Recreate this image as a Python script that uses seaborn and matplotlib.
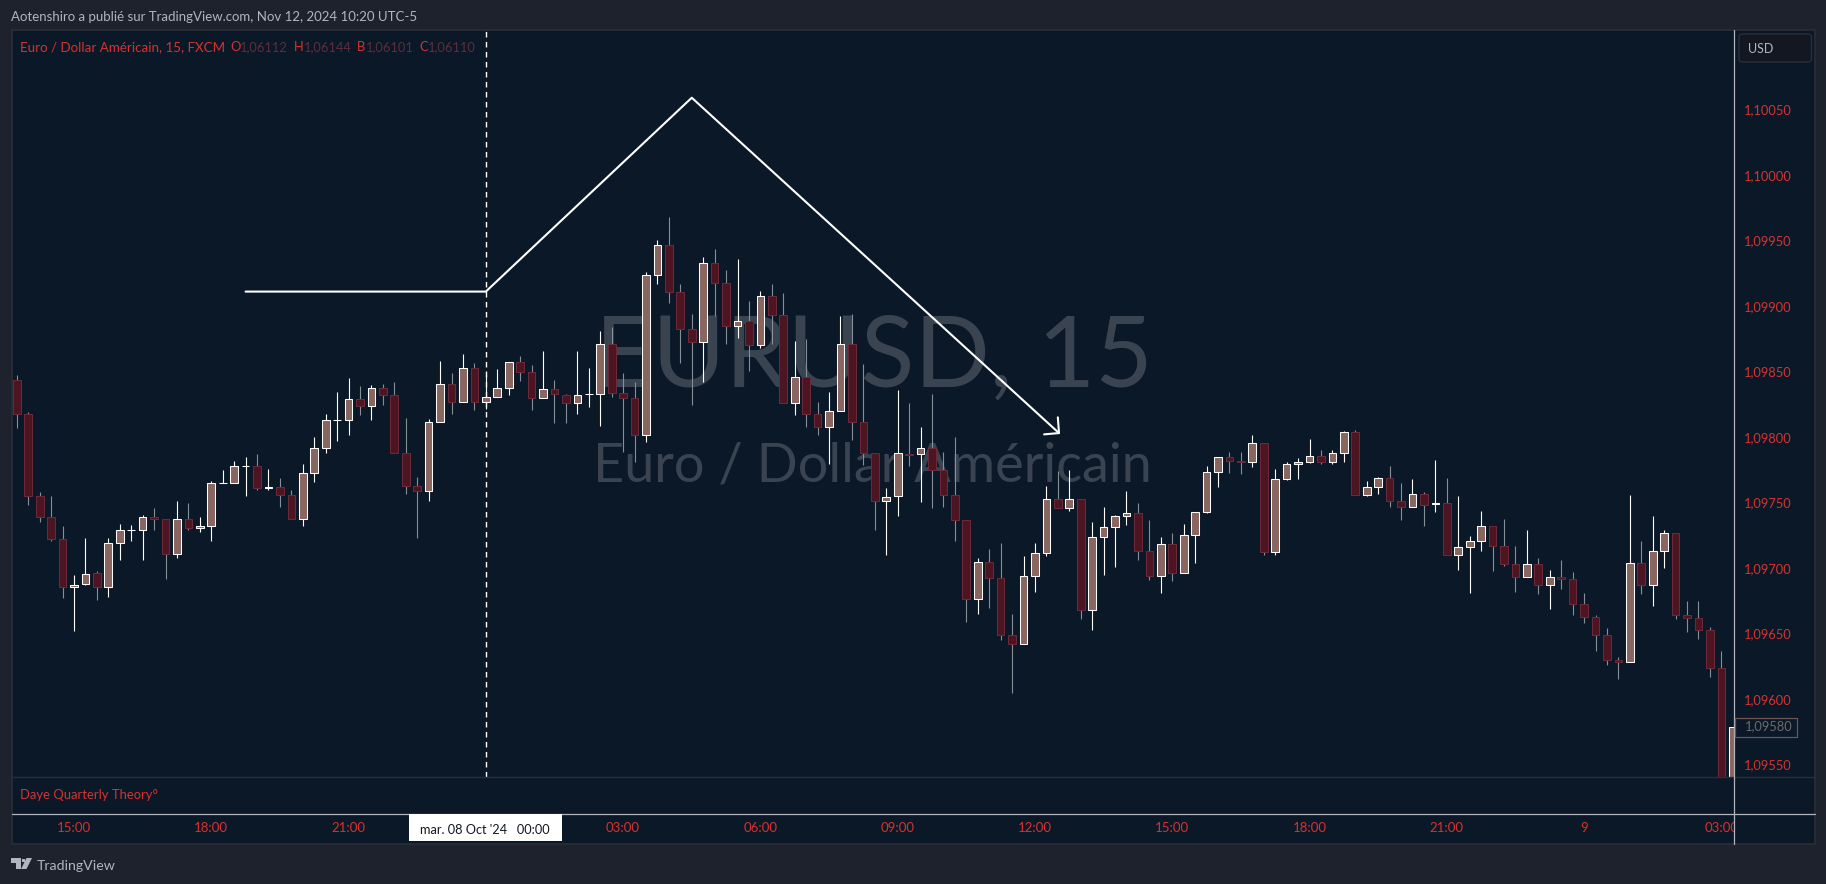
import matplotlib
matplotlib.use("Agg")
import matplotlib.pyplot as plt
from matplotlib.patches import Rectangle, Polygon, FancyBboxPatch
from matplotlib.ticker import FixedLocator, FuncFormatter
from matplotlib.transforms import ScaledTranslation
import numpy as np
import pandas as pd
import seaborn as sns

# ---- data: EUR/USD 15 min candles, in points (1e-5) ----
open_pts = [
 109844.3,109818.3,109755.7,109739.7,109722.9,109686.2,109688.5,109696.9,109686.2,109719.8,
 109729.7,109729.7,109739.7,109738.1,109711.4,109738.1,109731.3,109732.8,109765.6,109765.6,
 109778.6,109778.6,109761.8,109763.1,109756.5,109738.1,109773.3,109792.4,109813.7,109813.7,
 109829.8,109824.4,109838.2,109832.8,109788.5,109763.3,109759.5,109812.2,109841.2,109827.5,
 109853.4,109827.5,109831.3,109838.1,109858.5,109850.3,109830.5,109837.9,109833.3,109826.7,
 109833.5,109833.5,109872.2,109834.3,109831.0,109802.2,109924.9,109947.8,109911.4,109883.2,
 109873.2,109934.1,109918.3,109886.0,109889.3,109871.4,109908.9,109894.4,109826.7,109847.0,
 109818.2,109808.8,109821.0,109872.2,109812.1,109788.5,109752.3,109755.6,109788.3,109787.7,
 109792.8,109775.5,109756.9,109737.3,109677.5,109705.3,109693.5,109649.5,109643.2,109694.6,
 109712.1,109753.4,109746.5,109753.4,109668.6,109724.3,109732.5,109740.4,109743.2,109714.2,
 109694.6,109719.5,109697.4,109726.4,109743.9,109774.5,109785.4,109782.9,109782.1,109796.1,
 109713.4,109768.6,109780.1,109781.6,109786.2,109781.6,109788.5,109804.5,109756.9,109762.6,
 109769.5,109751.9,109747.3,109757.2,109750.1,109750.4,109710.7,109716.8,109721.4,109732.8,
 109717.5,109704.3,109693.9,109704.3,109687.8,109693.9,109692.3,109673.3,109663.3,109649.6,
 109630.5,109629.0,109704.6,109687.8,109713.7,109727.5,109664.9,109662.6,109653.4,109624.4,
 109535.0]
high_pts = [
 109848.3,109819.8,109758.8,109755.7,109732.8,109695.4,109723.6,109698.4,109723.6,109734.3,
 109733.6,109741.2,109746.5,109738.1,109751.9,109750.4,109739.7,109767.2,109775.6,109782.4,
 109785.5,109787.8,109776.3,109769.4,109760.3,109780.1,109800.8,109818.3,109835.1,109845.8,
 109839.7,109840.4,109841.2,109842.7,109815.3,109770.2,109814.5,109858.8,109849.6,109864.1,
 109857.3,109851.1,109852.7,109858.5,109862.5,109855.7,109866.4,109844.2,109833.5,109866.4,
 109853.4,109881.6,109884.7,109849.6,109842.7,109926.7,109951.1,109968.7,109917.5,109894.6,
 109938.1,109944.2,109928.2,109936.6,109904.5,109912.2,109917.5,109910.6,109874.0,109875.5,
 109827.4,109835.1,109893.1,109894.6,109856.4,109788.5,109761.7,109836.6,109826.7,109808.3,
 109833.5,109789.2,109800.7,109737.3,109708.3,109715.2,109719.8,109665.6,109709.8,109719.8,
 109763.3,109774.7,109775.5,109753.4,109735.8,109747.3,109741.1,109759.5,109750.3,109737.3,
 109724.3,109727.4,109734.3,109743.9,109778.6,109785.4,109789.2,109789.2,109802.2,109796.1,
 109776.3,109781.6,109784.7,109799.2,109790.8,109790.8,109805.3,109806.0,109767.1,109770.2,
 109778.6,109765.6,109768.7,109758.8,109783.2,109769.5,109755.7,109725.2,109744.3,109732.8,
 109738.2,109717.5,109729.8,109708.4,109699.2,109706.9,109697.7,109681.7,109665.4,109654.9,
 109632.8,109756.5,109721.4,109740.4,109729.8,109727.5,109675.6,109675.6,109655.7,109637.4,
 109579.4]
low_pts = [
 109808.1,109749.1,109736.4,109721.9,109678.3,109653.1,109688.0,109676.8,109679.1,109707.4,
 109721.9,109707.4,109730.3,109692.8,109708.9,109730.3,109728.7,109721.9,109765.6,109765.6,
 109756.2,109760.8,109760.8,109747.8,109738.1,109733.3,109766.9,109789.0,109798.2,109802.8,
 109818.0,109814.2,109825.7,109788.5,109757.7,109724.2,109752.4,109812.2,109818.8,109827.5,
 109821.9,109822.6,109831.3,109833.3,109843.9,109821.8,109830.5,109811.9,109811.9,109818.8,
 109824.1,109809.6,109831.8,109789.8,109782.1,109796.9,109918.0,109903.5,109857.7,109825.6,
 109843.2,109893.6,109872.2,109876.8,109851.6,109869.2,109872.2,109826.7,109818.0,109808.8,
 109802.7,109780.6,109821.0,109798.9,109779.6,109730.2,109711.0,109740.9,109779.0,109751.1,
 109746.5,109747.8,109721.8,109660.0,109666.1,109670.6,109646.2,109605.8,109643.2,109682.9,
 109710.3,109746.5,109744.7,109662.2,109653.9,109695.8,109701.9,109733.8,109707.3,109692.0,
 109682.1,109691.3,109697.4,109705.0,109742.7,109763.0,109773.7,109773.0,109778.3,109711.1,
 109711.1,109767.9,109769.1,109780.8,109780.1,109780.1,109782.1,109756.9,109756.2,109757.8,
 109747.3,109737.9,109747.3,109733.1,109744.0,109710.7,109699.7,109682.2,109714.2,109699.0,
 109702.8,109682.9,109693.9,109681.4,109670.0,109685.2,109665.4,109659.3,109637.9,109627.2,
 109616.5,109629.0,109681.4,109672.2,109701.3,109662.1,109652.4,109647.0,109618.0,109520.0,
 109520.0]
close_pts = [
 109818.3,109755.7,109739.7,109722.9,109686.2,109688.3,109696.7,109686.2,109719.8,109729.7,
 109729.7,109739.7,109738.1,109711.4,109738.1,109731.3,109732.8,109765.6,109765.6,109778.6,
 109778.6,109761.8,109763.1,109756.5,109738.1,109773.3,109792.4,109813.7,109813.7,109829.8,
 109824.4,109838.2,109832.8,109788.5,109763.3,109759.5,109812.2,109841.2,109827.5,109853.4,
 109827.5,109831.3,109838.2,109858.5,109850.3,109830.5,109837.9,109833.5,109826.7,109833.3,
 109833.5,109872.2,109834.3,109831.0,109802.2,109924.9,109947.8,109911.4,109883.2,109873.2,
 109934.1,109918.3,109886.0,109889.3,109871.4,109908.9,109894.4,109826.7,109847.0,109818.2,
 109808.8,109821.0,109872.2,109812.1,109788.5,109752.3,109755.4,109788.5,109787.6,109792.8,
 109775.5,109756.9,109737.3,109677.5,109705.3,109693.5,109649.5,109643.2,109694.6,109712.1,
 109753.4,109746.5,109753.4,109668.6,109724.3,109732.5,109740.4,109743.2,109714.2,109694.6,
 109719.5,109697.4,109726.4,109743.9,109774.5,109785.4,109782.9,109782.1,109796.1,109713.4,
 109768.6,109780.1,109781.6,109786.2,109781.6,109788.5,109804.5,109756.9,109762.5,109769.5,
 109751.9,109747.3,109757.2,109749.4,109750.4,109710.7,109716.8,109721.4,109732.8,109717.5,
 109704.3,109693.9,109704.3,109687.8,109693.9,109692.3,109673.3,109663.3,109649.6,109630.5,
 109629.0,109704.6,109687.8,109713.7,109727.5,109664.9,109662.6,109653.4,109624.4,109535.0,
 109579.4]

path_index = [20.0, 41.0, 59.0, 91.1]
path_pts = [109912.0, 109912.0, 110060.0, 109804.0]
head_index = [89.8, 91.1, 91.0]
head_pts = [109803.0, 109804.0, 109816.0]
marker_index = 41

price_ticks = [1.09550, 1.09600, 1.09650, 1.09700, 1.09750, 1.09800, 1.09850, 1.09900, 1.09950, 1.10000, 1.10050]
time_index = [5, 17, 29, 53, 65, 77, 89, 101, 113, 125, 137, 149]
time_labels = ["15:00", "18:00", "21:00", "03:00", "06:00", "09:00", "12:00", "15:00", "18:00", "21:00", "9", "03:00"]
crosshair_label = "mar. 08 Oct '24   00:00"
last_price = "1,09580"

# ---- style ----
OUTER = "#1e222d"; PANE = "#0a1828"; BORDER = "#2a2e39"; LIGHT = "#b2b5be"
RED = "#d8322e"; DIM = "#5b2f3a"
UP_FACE = "#8a6660"; UP_EDGE = "#ffffff"; UP_WICK = "#ffffff"
DN_FACE = "#4d1522"; DN_EDGE = "#6b2a3a"; DN_WICK = "#868e96"
WATER = "#3a4451"
FONT = "Lato"

sns.set_theme(style="dark", rc={"figure.facecolor": OUTER, "axes.facecolor": "none",
                                "lines.scale_dashes": False})
plt.rcParams["font.family"] = [FONT, "DejaVu Sans"]

W, H = 1826, 884
fig = plt.figure(figsize=(W / 100, H / 100), dpi=100, facecolor=OUTER)
L, R, T, B1, B2, B3, RP = 11.5, 1734.3, 30.0, 777.0, 814.0, 844.0, 1815.0
X0, DX = 16.8, 11.44

def fx(x): return x / W
def fy(y): return 1 - y / H
def box(l, t, r, b): return [fx(l), fy(b), fx(r) - fx(l), fy(t) - fy(b)]
def ftext(x, y, s, **kw):
    kw.setdefault("va", "center"); kw.setdefault("ha", "left")
    return fig.text(fx(x), fy(y), s, **kw)
def frect(l, t, r, b, **kw):
    p = Rectangle((fx(l), fy(b)), fx(r) - fx(l), fy(t) - fy(b), transform=fig.transFigure, **kw)
    fig.add_artist(p); return p

frect(L, T, RP, B3, facecolor=PANE, edgecolor=BORDER, linewidth=1.2, zorder=-5)

ax = fig.add_axes(box(L, T, R, B1))
ax_ind = fig.add_axes(box(L, B1, R, B2), sharex=ax)
ax_time = fig.add_axes(box(L, B2, R, B3), sharex=ax)
for a in (ax, ax_ind, ax_time):
    a.set_facecolor("none")
    a.grid(False)
    for s in a.spines.values():
        s.set_visible(False)

df = pd.DataFrame({"o": open_pts, "h": high_pts, "l": low_pts, "c": close_pts}) / 1e5
df["i"] = np.arange(len(df))
up = df[df.c >= df.o]
dn = df[df.c < df.o]

# watermark
t1 = ftext(873.5, 359, "EURUSD, 15", color=WATER, fontsize=71.5, ha="center")
t2 = ftext(872, 466, "Euro / Dollar Américain", color=WATER, fontsize=38.9, ha="center")
t1.set_zorder(-1); t2.set_zorder(-1)

# candles
for part, face, edge, wick in ((dn, DN_FACE, DN_EDGE, DN_WICK), (up, UP_FACE, UP_EDGE, UP_WICK)):
    ax.vlines(part.i, part.l, part.h, color=wick, linewidth=0.8, zorder=3)
    ax.bar(part.i, (part.c - part.o).abs(), bottom=part[["o", "c"]].min(axis=1), width=0.67,
           facecolor=face, edgecolor=edge, linewidth=0.75, zorder=4)

# dashed marker
ax.axvline(marker_index, color="white", linewidth=1.0, linestyle=(0, (4.0, 3.2)), zorder=5)

# hand-drawn path and arrow head
path = pd.DataFrame({"i": path_index, "p": np.array(path_pts) / 1e5})
headd = pd.DataFrame({"i": head_index, "p": np.array(head_pts) / 1e5})
sns.lineplot(data=path, x="i", y="p", sort=False, estimator=None, color="white", linewidth=1.5, ax=ax, zorder=6)
sns.lineplot(data=headd, x="i", y="p", sort=False, estimator=None, color="white", linewidth=1.5, ax=ax, zorder=6)

y_at = lambda py: 109800 - (py - 438.3) * 0.7634
ax.set_ylim(y_at(B1) / 1e5, y_at(T) / 1e5)
ax.set_xlim((L - X0) / DX, (R - X0) / DX)
ax.set_xlabel(""); ax.set_ylabel("")

ax.yaxis.tick_right()
ax.yaxis.set_major_locator(FixedLocator(price_ticks))
ax.yaxis.set_major_formatter(FuncFormatter(lambda v, _: f"{v:.5f}".replace(".", ",")))
ax.tick_params(axis="y", length=0, pad=7.2, labelsize=9.3, labelcolor=RED)
ax.tick_params(axis="x", which="both", bottom=False, labelbottom=False)
shift_up = ScaledTranslation(0, 1.5 / 72 * 0.72, fig.dpi_scale_trans)
for tick in ax.yaxis.get_major_ticks():
    tick.label2.set_transform(tick.label2.get_transform() + shift_up)
ax_ind.tick_params(bottom=False, left=False, labelbottom=False, labelleft=False)
ax_ind.set_yticks([])

ax_time.set_yticks([])
ax_time.set_xticks(time_index)
ax_time.set_xticklabels(time_labels)
ax_time.tick_params(axis="x", length=0, pad=-15.5, labelsize=9.5, labelcolor=RED)
ax_time.set_xlim((L - X0) / DX, (R - X0) / DX)
for lab in ax_time.get_xticklabels():
    lab.set_clip_on(True)
    lab.set_clip_box(ax_time.bbox)

# rules
fig.add_artist(plt.Line2D([fx(L), fx(RP)], [fy(B1), fy(B1)], color=BORDER, linewidth=1.0))
fig.add_artist(plt.Line2D([fx(L), fx(RP)], [fy(B2), fy(B2)], color=LIGHT, linewidth=0.9))
fig.add_artist(plt.Line2D([fx(R), fx(R)], [fy(T), fy(B3)], color=LIGHT, linewidth=0.9))

# crosshair label
frect(409, B2, 561.6, 840.7, facecolor="white", edgecolor="none", zorder=8)
ftext(485.3, 829.5, crosshair_label, color="#131722", fontsize=9.2, ha="center", zorder=9)

# header and legend
ftext(11, 16.7, "Aotenshiro a publié sur TradingView.com, Nov 12, 2024 10:20 UTC-5", color=LIGHT, fontsize=9.5)
ftext(20, 46.7, "Euro / Dollar Américain, 15, FXCM", color=RED, fontsize=9.65)
for x, s, c in [(230.8, "O", RED), (240.3, "1,06112", DIM), (293.5, "H", RED), (303.5, "1,06144", DIM),
                (357, "B", RED), (365.5, "1,06101", DIM), (419, "C", RED), (427.5, "1,06110", DIM)]:
    ftext(x, 46.7, s, color=c, fontsize=9.3)
ftext(20, 795, "Daye Quarterly Theory°", color=RED, fontsize=9.4)

# currency box
fig.add_artist(FancyBboxPatch((fx(1739), fy(62)), fx(72.5), 28 / H, transform=fig.transFigure,
                              boxstyle="round,pad=0,rounding_size=0.002", facecolor="#131722",
                              edgecolor=BORDER, linewidth=1.0, mutation_aspect=2.0))
ftext(1748, 48.7, "USD", color=LIGHT, fontsize=9)

# last price tag
frect(1735, 718, 1796.7, 736.7, facecolor=PANE, edgecolor="#6e5350", linewidth=0.9, zorder=8)
ftext(1744.7, 726, last_price, color="#6b6b70", fontsize=9.3, zorder=9)

# logo
def fpts(pts): return [(fx(x), fy(y)) for x, y in pts]
fig.add_artist(Polygon(fpts([(11, 858), (20.5, 858), (20.5, 869), (15.5, 869), (15.5, 862.5), (11, 862.5)]),
                       closed=True, transform=fig.transFigure, facecolor=LIGHT, edgecolor="none"))
fig.add_artist(Polygon(fpts([(26.5, 858), (32, 858), (26.5, 869), (21, 869)]),
                       closed=True, transform=fig.transFigure, facecolor=LIGHT, edgecolor="none"))
fig.add_artist(Rectangle((fx(21.5), fy(862)), fx(3.5), 3.5 / H, transform=fig.transFigure,
                         facecolor=LIGHT, edgecolor="none"))
ftext(37, 865.7, "TradingView", color=LIGHT, fontsize=10.2)

fig.savefig("out.png", dpi=100, facecolor=OUTER)
